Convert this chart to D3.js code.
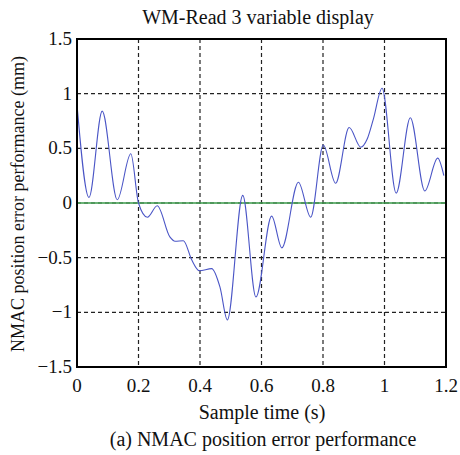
<!DOCTYPE html>
<meta charset="utf-8">
<script src="https://d3js.org/d3.v7.min.js"></script>
<style>
    body { margin: 0; background: #fff; }
    text { font-family: "Liberation Serif", "Times New Roman", serif; fill: #111; }
</style>
<body>
</body>
<script>
    // sample times (s) and position error (mm)
    var times = [0.000, 0.039, 0.082, 0.131, 0.175, 0.200, 0.229, 0.261, 0.302, 0.319,
                 0.346, 0.373, 0.398, 0.438, 0.465, 0.489, 0.539, 0.582, 0.633, 0.666,
                 0.720, 0.760, 0.801, 0.841, 0.885, 0.923, 0.943, 0.964, 0.992, 1.038,
                 1.084, 1.131, 1.173, 1.193];
    var errors = [0.90, 0.05, 0.84, 0.03, 0.45, 0.00, -0.13, -0.025, -0.31, -0.35,
                  -0.345, -0.52, -0.62, -0.60, -0.77, -1.07, 0.07, -0.86, -0.12, -0.41,
                  0.19, -0.13, 0.53, 0.18, 0.69, 0.51, 0.58, 0.77, 1.05, 0.09,
                  0.78, 0.11, 0.41, 0.25];
    var xTicks = [0, 0.2, 0.4, 0.6, 0.8, 1, 1.2];
    var yTicks = [-1.5, -1, -0.5, 0, 0.5, 1, 1.5];

    var margin = {top: 39, right: 14, bottom: 88, left: 77},
        width = 460 - margin.left - margin.right,
        height = 455 - margin.top - margin.bottom;

    var svg = d3.select("body")
        .append("svg")
            .attr("width", 460)
            .attr("height", 455);

    var g = svg.append("g")
        .attr("transform", "translate(" + margin.left + "," + margin.top + ")");

    var x = d3.scaleLinear().domain([0, 1.2]).range([0, width]);
    var y = d3.scaleLinear().domain([-1.5, 1.5]).range([height, 0]);

    var fmt = function(d) { return String(d).replace("-", "\u2212"); };

    // dashed grid
    g.append("g").selectAll("line")
        .data(xTicks.slice(1, -1))
        .enter().append("line")
            .attr("x1", d => x(d)).attr("x2", d => x(d))
            .attr("y1", 0).attr("y2", height)
            .attr("stroke", "#222").attr("stroke-width", 1.2)
            .attr("stroke-dasharray", "4,3");
    g.append("g").selectAll("line")
        .data(yTicks.slice(1, -1))
        .enter().append("line")
            .attr("x1", 0).attr("x2", width)
            .attr("y1", d => y(d)).attr("y2", d => y(d))
            .attr("stroke", "#222").attr("stroke-width", 1.2)
            .attr("stroke-dasharray", "4,3");

    // zero reference line
    g.append("line")
        .attr("x1", 0).attr("x2", width)
        .attr("y1", y(0)).attr("y2", y(0))
        .attr("stroke", "#3a9a4a").attr("stroke-width", 1.5);

    // error curve
    var pts = times.map((t, i) => [t, errors[i]]);
    var line = d3.line()
        .x(d => x(d[0]))
        .y(d => y(d[1]))
        .curve(d3.curveMonotoneX);
    g.append("path")
        .datum(pts)
        .attr("d", line)
        .attr("fill", "none")
        .attr("stroke", "#4a55c6")
        .attr("stroke-width", 1.1);

    // frame
    g.append("rect")
        .attr("width", width).attr("height", height)
        .attr("fill", "none").attr("stroke", "#000").attr("stroke-width", 2);

    // tick labels
    g.append("g").selectAll("text")
        .data(xTicks)
        .enter().append("text")
            .attr("x", d => x(d))
            .attr("y", height + 25)
            .attr("text-anchor", "middle")
            .style("font-size", "19px")
            .text(fmt);
    g.append("g").selectAll("text")
        .data(yTicks)
        .enter().append("text")
            .attr("x", -5)
            .attr("y", d => y(d) + 6)
            .attr("text-anchor", "end")
            .style("font-size", "19px")
            .text(fmt);

    // titles
    svg.append("text")
        .attr("x", 258).attr("y", 24)
        .attr("text-anchor", "middle")
        .style("font-size", "20px")
        .text("WM-Read 3 variable display");
    svg.append("text")
        .attr("x", 262).attr("y", 419)
        .attr("text-anchor", "middle")
        .style("font-size", "20px")
        .text("Sample time (s)");
    svg.append("text")
        .attr("x", 263).attr("y", 446)
        .attr("text-anchor", "middle")
        .style("font-size", "20px")
        .text("(a) NMAC position error performance");
    svg.append("text")
        .attr("transform", "translate(24,204) rotate(-90)")
        .attr("text-anchor", "middle")
        .style("font-size", "18px")
        .text("NMAC position error performance (mm)");
</script>
